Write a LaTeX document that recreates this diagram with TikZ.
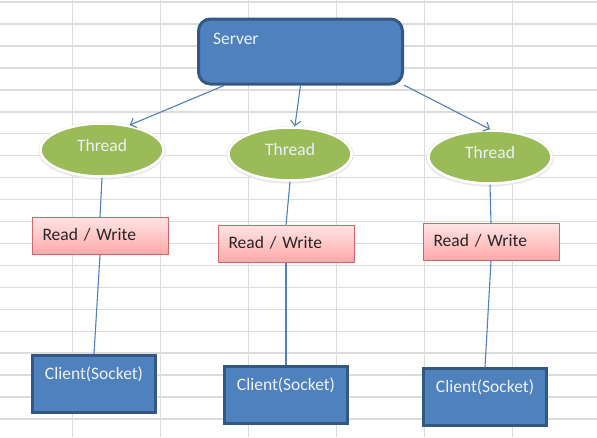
\documentclass[tikz,border=0pt]{standalone}
\usepackage{fontspec}
\setmainfont{Carlito}
\usetikzlibrary{arrows.meta,shapes.geometric}
\definecolor{boxblue}{RGB}{79,129,189}
\definecolor{boxline}{RGB}{52,88,132}
\definecolor{thrgreen}{RGB}{155,187,89}
\definecolor{gridgray}{RGB}{220,220,220}
\definecolor{rwtop}{RGB}{255,228,228}
\definecolor{rwbot}{RGB}{255,168,168}
\definecolor{rwline}{RGB}{205,105,105}
\definecolor{lighttext}{RGB}{236,242,250}
\begin{document}
\begin{tikzpicture}[x=1pt,y=-1pt,font=\fontsize{17.5}{21}\selectfont,
  srv/.style={draw=boxline,line width=3pt,fill=boxblue,rounded corners=12pt,text=lighttext,inner sep=0pt,inner xsep=14.5pt,text width=175pt,align=left,text height=25.5pt,text depth=39.5pt},
  thr/.style={ellipse,draw=white,line width=2.5pt,fill=thrgreen,text=lighttext,minimum width=123pt,minimum height=53pt,inner sep=0pt,text height=12pt,text depth=10pt,preaction={draw=black!9,line width=4.5pt,transform canvas={yshift=-0.8pt}}},
  rw/.style={draw=rwline,line width=0.8pt,top color=rwtop,bottom color=rwbot,text=black!85,inner sep=0pt,inner xsep=10.5pt,text width=115pt,align=left,text height=22.5pt,text depth=14.5pt},
  cli/.style={draw=boxline,line width=3pt,fill=boxblue,text=lighttext,minimum width=123pt,inner sep=0pt,text height=23.5pt,text depth=33.5pt},
  arr/.style={draw=boxblue,line width=1.1pt,-{Straight Barb[length=5pt,width=10pt]}},
  lnk/.style={draw=boxblue,line width=1.1pt}]
  \useasboundingbox[fill=white] (0,0) rectangle (597,437);
  \foreach \gx in {72.7,160.7,...,600} \draw[gridgray,line width=1.5pt] (\gx,0) -- (\gx,437);
  \foreach \k in {0,...,19} \draw[gridgray,line width=1.5pt] (0,{2+21.95*\k}) -- (597,{2+21.95*\k});
  \node[srv] (srv) at (300.5,51.5){Server};
  \node[thr] (t1) at (102,150){Thread};
  \node[thr] (t2) at (290,154){Thread};
  \node[thr] (t3) at (490,157){Thread};
  \node[rw] (rw1) at (100,236){Read / Write};
  \node[rw] (rw2) at (286,244){Read / Write};
  \node[rw] (rw3) at (491,242){Read / Write};
  \node[cli] (c1) at (94,384){Client(Socket)};
  \node[cli] (c2) at (286,395){Client(Socket)};
  \node[cli] (c3) at (485,397){Client(Socket)};
  \draw[arr] (srv.204) -- (t1.42);
  \draw[arr] (srv.south) -- (t2.80);
  \draw[arr] (srv.-18) -- (t3.north);
  \draw[lnk] (t1.south) -- (rw1.north);
  \draw[lnk] (t2.south) -- (rw2.north);
  \draw[lnk] (t3.south) -- (rw3.north);
  \draw[lnk] (rw1.south) -- (c1.north);
  \draw[lnk] (rw2.south) -- (c2.north);
  \draw[lnk] (rw3.south) -- (c3.north);
\end{tikzpicture}
\end{document}
